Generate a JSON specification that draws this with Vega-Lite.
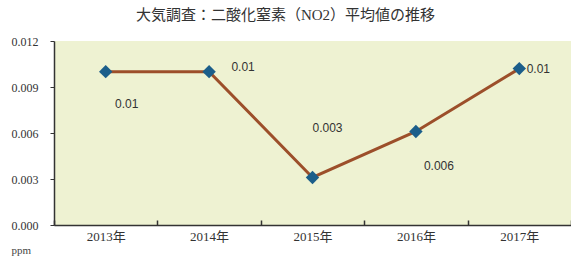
{
  "$schema": "https://vega.github.io/schema/vega-lite/v6.json",
  "width": 517,
  "height": 184,
  "autosize": {"type": "none"},
  "padding": {"left": 54, "top": 41, "right": 0, "bottom": 32},
  "background": "white",
  "title": {
    "text": "大気調査：二酸化窒素（NO2）平均値の推移",
    "font": "Liberation Serif, Noto Sans CJK JP",
    "fontSize": 15,
    "fontWeight": "normal",
    "color": "#333333",
    "anchor": "middle",
    "dx": -27,
    "offset": 12
  },
  "config": {
    "view": {"fill": "#eef2d2", "stroke": null},
    "axis": {"grid": false, "domainColor": "#333333", "domainWidth": 1.5, "tickColor": "#333333", "labelColor": "#333333", "labelFont": "Liberation Serif, Noto Sans CJK JP"}
  },
  "data": {
    "values": [
      {"year": "2013年", "value": 0.0100, "label": "0.01"},
      {"year": "2014年", "value": 0.0100, "label": "0.01"},
      {"year": "2015年", "value": 0.0031, "label": "0.003"},
      {"year": "2016年", "value": 0.0061, "label": "0.006"},
      {"year": "2017年", "value": 0.0102, "label": "0.01"}
    ]
  },
  "encoding": {
    "x": {
      "field": "year", "type": "nominal", "sort": null,
      "scale": {"paddingInner": 0, "paddingOuter": 0},
      "axis": {"title": null, "labelAngle": 0, "labelFontSize": 13, "labelPadding": 10, "tickBand": "extent", "tickSize": -5, "tickWidth": 1.5}
    },
    "y": {
      "field": "value", "type": "quantitative",
      "scale": {"domain": [0, 0.012], "nice": false},
      "axis": {
        "values": [0, 0.003, 0.006, 0.009, 0.012], "format": ".3f",
        "labelAlign": "left", "labelPadding": 39, "tickSize": 4, "labelFontSize": 12,
        "labelBaseline": "middle",
        "title": "ppm", "titleAngle": 0, "titleAlign": "left", "titleBaseline": "middle",
        "titleX": -43, "titleY": 209, "titleFontSize": 11, "titleFontWeight": "normal",
        "titleFont": "Liberation Serif", "titleColor": "#444444"
      }
    }
  },
  "layer": [
    {"mark": {"type": "line", "color": "#9c4f2a", "strokeWidth": 3}},
    {"mark": {"type": "point", "shape": "diamond", "filled": true, "size": 180, "color": "#1b5e8a", "opacity": 1}},
    {
      "transform": [{"filter": "datum.year == '2013年'"}],
      "mark": {"type": "text", "font": "Liberation Sans", "fontSize": 12, "color": "#333333", "dx": 21, "dy": 32},
      "encoding": {"text": {"field": "label"}}
    },
    {
      "transform": [{"filter": "datum.year == '2014年'"}],
      "mark": {"type": "text", "font": "Liberation Sans", "fontSize": 12, "color": "#333333", "dx": 34, "dy": -5},
      "encoding": {"text": {"field": "label"}}
    },
    {
      "transform": [{"filter": "datum.year == '2015年'"}],
      "mark": {"type": "text", "font": "Liberation Sans", "fontSize": 12, "color": "#333333", "dx": 15, "dy": -49},
      "encoding": {"text": {"field": "label"}}
    },
    {
      "transform": [{"filter": "datum.year == '2016年'"}],
      "mark": {"type": "text", "font": "Liberation Sans", "fontSize": 12, "color": "#333333", "dx": 23, "dy": 35},
      "encoding": {"text": {"field": "label"}}
    },
    {
      "transform": [{"filter": "datum.year == '2017年'"}],
      "mark": {"type": "text", "font": "Liberation Sans", "fontSize": 12, "color": "#333333", "dx": 19, "dy": 0},
      "encoding": {"text": {"field": "label"}}
    }
  ]
}
